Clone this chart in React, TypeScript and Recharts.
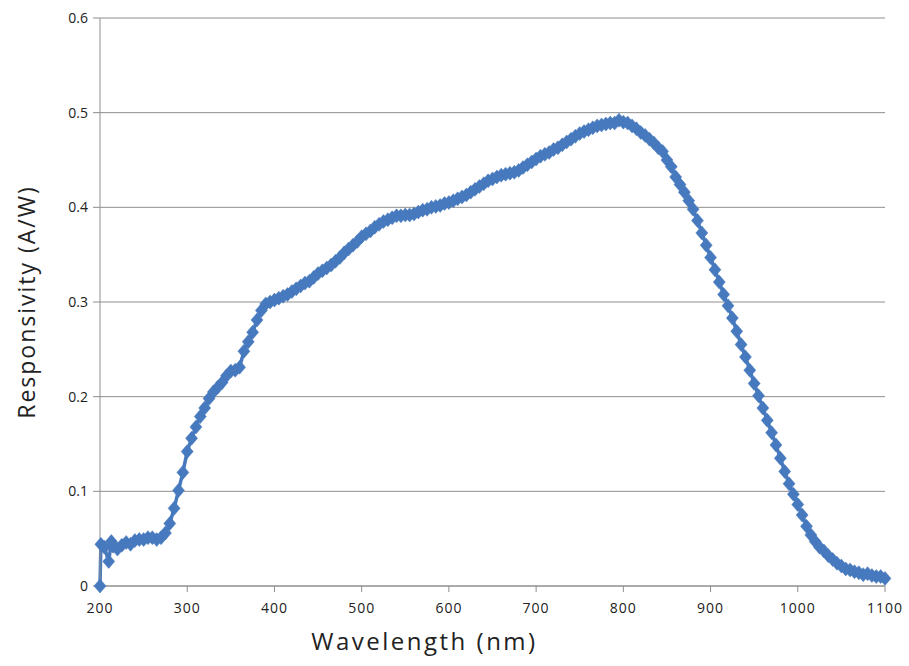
import React from 'react';
import { LineChart, Line, XAxis, YAxis, CartesianGrid } from 'recharts';

// wavelength (nm) and responsivity (A/W)
const wavelengths = [
  200, 201, 205, 210, 213, 215, 220, 225, 230, 235, 240, 245, 250, 255, 260, 265, 270, 275, 280, 285,
  290, 295, 300, 305, 310, 315, 320, 325, 330, 335, 340, 345, 350, 355, 360, 365, 370, 375, 380, 385,
  390, 395, 400, 405, 410, 415, 420, 425, 430, 435, 440, 445, 450, 455, 460, 465, 470, 475, 480, 485,
  490, 495, 500, 505, 510, 515, 520, 525, 530, 535, 540, 545, 550, 555, 560, 565, 570, 575, 580, 585,
  590, 595, 600, 605, 610, 615, 620, 625, 630, 635, 640, 645, 650, 655, 660, 665, 670, 675, 680, 685,
  690, 695, 700, 705, 710, 715, 720, 725, 730, 735, 740, 745, 750, 755, 760, 765, 770, 775, 780, 785,
  790, 795, 800, 805, 810, 815, 820, 825, 830, 835, 840, 845, 850, 855, 860, 865, 870, 875, 880, 885,
  890, 895, 900, 905, 910, 915, 920, 925, 930, 935, 940, 945, 950, 955, 960, 965, 970, 975, 980, 985,
  990, 995, 1000, 1005, 1010, 1015, 1020, 1025, 1030, 1035, 1040, 1045, 1050, 1055, 1060, 1065, 1070, 1075, 1080, 1085,
  1090, 1095, 1100,
];

const responsivity = [
  0, 0.044, 0.041, 0.026, 0.047, 0.042, 0.039, 0.043, 0.046, 0.044, 0.048, 0.049, 0.049, 0.051, 0.051, 0.049, 0.051, 0.056, 0.066, 0.082,
  0.101, 0.12, 0.142, 0.156, 0.168, 0.179, 0.188, 0.198, 0.205, 0.21, 0.215, 0.222, 0.227, 0.228, 0.231, 0.248, 0.258, 0.268, 0.281, 0.291,
  0.298, 0.3, 0.302, 0.304, 0.306, 0.308, 0.311, 0.314, 0.317, 0.32, 0.322, 0.326, 0.33, 0.333, 0.336, 0.339, 0.343, 0.347, 0.352, 0.356,
  0.36, 0.364, 0.369, 0.372, 0.375, 0.379, 0.382, 0.385, 0.387, 0.389, 0.391, 0.391, 0.392, 0.392, 0.393, 0.395, 0.397, 0.398, 0.4, 0.401,
  0.402, 0.404, 0.405, 0.407, 0.409, 0.411, 0.413, 0.416, 0.419, 0.422, 0.425, 0.428, 0.43, 0.432, 0.434, 0.435, 0.436, 0.437, 0.439, 0.442,
  0.445, 0.448, 0.451, 0.454, 0.456, 0.458, 0.461, 0.463, 0.466, 0.469, 0.472, 0.475, 0.478, 0.48, 0.482, 0.484, 0.486, 0.487, 0.488, 0.489,
  0.489, 0.492, 0.49, 0.489, 0.486, 0.483, 0.479, 0.476, 0.472, 0.468, 0.463, 0.459, 0.45, 0.443, 0.432, 0.424, 0.416, 0.407, 0.398, 0.386,
  0.373, 0.36, 0.347, 0.334, 0.321, 0.308, 0.296, 0.283, 0.269, 0.255, 0.242, 0.228, 0.214, 0.201, 0.188, 0.175, 0.162, 0.149, 0.135, 0.121,
  0.108, 0.097, 0.086, 0.075, 0.063, 0.054, 0.047, 0.041, 0.037, 0.032, 0.028, 0.024, 0.021, 0.018, 0.017, 0.015, 0.014, 0.012, 0.013, 0.011,
  0.01, 0.01, 0.008,
];

const xTicks = [200, 300, 400, 500, 600, 700, 800, 900, 1000, 1100];
const yTicks = [0, 0.1, 0.2, 0.3, 0.4, 0.5, 0.6];

const data = wavelengths.map((w, i) => ({ wavelength: w, value: responsivity[i] }));

const BLUE = '#4679bd';
const GRID = '#8e8e8e';
const FONT = '"Open Sans", sans-serif';

// diamond marker like the Excel series (a bit taller than wide)
const Diamond = (props: any) => {
  const { cx, cy } = props;
  if (cx == null || cy == null) return null;
  const rx = 6;
  const ry = 7;
  return (
    <polygon
      points={`${cx},${cy - ry} ${cx + rx},${cy} ${cx},${cy + ry} ${cx - rx},${cy}`}
      fill={BLUE}
      stroke={BLUE}
      strokeWidth={0.5}
    />
  );
};

export default function App() {
  return (
    <div style={{ position: 'absolute', left: 0, top: 0, background: '#fff' }}>
      <LineChart
        width={909}
        height={666}
        data={data}
        margin={{ top: 18, right: 24, left: 0, bottom: 0 }}
        style={{ fontFamily: FONT }}
      >
        <CartesianGrid vertical={false} stroke={GRID} strokeWidth={1} />
        <XAxis
          dataKey="wavelength"
          type="number"
          domain={[200, 1100]}
          ticks={xTicks}
          height={80}
          stroke={GRID}
          tickSize={6}
          tickMargin={11}
          tick={{ fill: '#222', fontSize: 14, fontFamily: FONT, letterSpacing: 1 }}
          label={{
            value: 'Wavelength (nm)',
            position: 'insideBottom',
            offset: 16,
            dx: -68,
            fill: '#222',
            fontSize: 24,
            letterSpacing: 2.5,
            fontFamily: FONT,
          }}
        />
        <YAxis
          type="number"
          domain={[0, 0.6]}
          ticks={yTicks}
          width={100}
          stroke={GRID}
          tickSize={7}
          tickMargin={5}
          tickFormatter={(v: number) => String(Number(v.toFixed(1)))}
          tick={{ fill: '#222', fontSize: 14, fontFamily: FONT }}
          label={{
            value: 'Responsivity (A/W)',
            angle: -90,
            position: 'insideLeft',
            offset: 27,
            style: { textAnchor: 'middle' },
            fill: '#222',
            fontSize: 23,
            letterSpacing: 2,
            fontFamily: FONT,
          }}
        />
        <Line
          type="linear"
          dataKey="value"
          stroke={BLUE}
          strokeWidth={3.5}
          dot={<Diamond />}
          activeDot={false}
          isAnimationActive={false}
        />
      </LineChart>
    </div>
  );
}
